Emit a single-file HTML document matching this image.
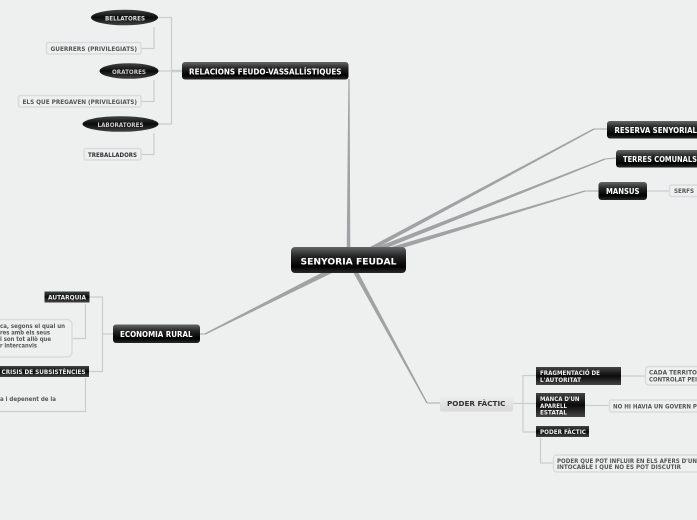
<!DOCTYPE html>
<html><head><meta charset="utf-8"><style>
html,body{margin:0;padding:0;background:#eef0f0;width:697px;height:520px;overflow:hidden}
svg{display:block;filter:blur(.3px)}
text{font-family:"DejaVu Sans","Liberation Sans",sans-serif;font-weight:bold}
.w{fill:#fff}.g{fill:#555}.d{fill:#333}
.l{fill:none;stroke:#c9cdcd;stroke-width:1.2}
.b{fill:#eef0f0;stroke:#d8dcdc;stroke-width:1.5}
</style></head><body>
<svg width="697" height="520" viewBox="0 0 697 520" xmlns="http://www.w3.org/2000/svg">
<defs>
<linearGradient id="k" x1="0" y1="0" x2="0" y2="1"><stop offset="0" stop-color="#666"/><stop offset=".35" stop-color="#262626"/><stop offset=".75" stop-color="#000"/><stop offset="1" stop-color="#2a2a2a"/></linearGradient>
<linearGradient id="f" x1="0" y1="0" x2="0" y2="1"><stop offset="0" stop-color="#444"/><stop offset=".5" stop-color="#0a0a0a"/><stop offset="1" stop-color="#444"/></linearGradient>
<linearGradient id="p" x1="0" y1="0" x2="0" y2="1"><stop offset="0" stop-color="#eeeeee"/><stop offset="1" stop-color="#d8d8d8"/></linearGradient>
</defs>
<rect width="697" height="520" fill="#eef0f0"/>

<!-- main connectors: tapered branches -->
<g fill="#a0a3a3" stroke="none">
<polygon points="346.700,250 350.300,250 349.600,79 348.400,79"/>
<polygon points="369,247.500 372,250.500 594.400,129.600 593.600,128.400"/>
<polygon points="377,247 379,251 605.300,159.600 604.700,158.400"/>
<polygon points="391,247 393,251 585.200,191.600 584.800,190.400"/>
<polygon points="352.500,271 357.500,271 427.600,402.700 426.400,403.300"/>
<polygon points="327,270 332,273 205.300,334.600 204.700,333.400"/>
</g>
<g fill="none" stroke="#a5a8a8" stroke-width="1.1">
<path d="M594 129 L607 129 M605 159 L616 158 M585 191 L599 191 M427 403 L440 403 M205 334 L200 334"/>
</g>

<!-- relacions connectors -->
<path class="l" d="M158 17.500 H171.500 V124 H158 M158 71 H182"/>
<path d="M171 71 H182" stroke="#c9cdcd" stroke-width="2.500"/>
<path class="l" d="M154 27 V48.500 H141 M154 80 V101.500 H141 M154 133 V154.500 H141"/>

<!-- economia connectors -->
<path class="l" d="M89 297 H102.500 V371.500 H89 M102.500 334 H113"/>
<path class="l" d="M85.500 304 V338.500 H72 M85.500 378 V411.500 H0"/>

<!-- poder connectors -->
<path class="l" d="M536 375.500 H523 V432 H536 M513 403.500 H536"/>
<path class="l" d="M621 376 H645 M585 405.500 H609 M540.500 438 V463 H553 M647 191 H669"/>

<!-- root -->
<rect x="291" y="247" width="115" height="26" rx="4" fill="url(#k)"/>
<text x="300.500" y="264.500" font-size="9" textLength="96" lengthAdjust="spacingAndGlyphs" class="w">SENYORIA FEUDAL</text>

<!-- relacions -->
<rect x="182" y="62" width="166.500" height="17.500" rx="3" fill="url(#k)"/>
<text x="189" y="74.500" font-size="7.500" textLength="152.500" lengthAdjust="spacingAndGlyphs" class="w">RELACIONS FEUDO-VASSALLÍSTIQUES</text>

<ellipse cx="124.500" cy="17.500" rx="33.500" ry="7.800" fill="url(#f)"/>
<text x="105" y="20.300" font-size="5.800" textLength="40" lengthAdjust="spacingAndGlyphs" fill="#ddd">BELLATORES</text>
<ellipse cx="129" cy="71" rx="29.500" ry="7.800" fill="url(#f)"/>
<text x="112" y="73.800" font-size="5.800" textLength="34" lengthAdjust="spacingAndGlyphs" fill="#ccc">ORATORES</text>
<ellipse cx="120.500" cy="124" rx="38" ry="7.800" fill="url(#f)"/>
<text x="97.500" y="126.800" font-size="5.800" textLength="46" lengthAdjust="spacingAndGlyphs" fill="#ccc">LABORATORES</text>

<rect class="b" x="46.500" y="42.500" width="94.500" height="11.500" rx="2"/>
<text x="50.500" y="50.800" font-size="5.800" textLength="86.500" lengthAdjust="spacingAndGlyphs" class="g">GUERRERS (PRIVILEGIATS)</text>
<rect class="b" x="18.500" y="95.500" width="122.500" height="11.500" rx="2"/>
<text x="22.500" y="103.800" font-size="5.800" textLength="114.500" lengthAdjust="spacingAndGlyphs" class="g">ELS QUE PREGAVEN (PRIVILEGIATS)</text>
<rect class="b" x="84" y="148.500" width="57" height="11.500" rx="2"/>
<text x="88" y="156.800" font-size="5.800" textLength="49" lengthAdjust="spacingAndGlyphs" class="d">TREBALLADORS</text>

<!-- right -->
<rect x="607" y="121" width="100" height="17.500" rx="3" fill="url(#k)"/>
<text x="614.500" y="132.800" font-size="7.500" textLength="82.500" lengthAdjust="spacingAndGlyphs" class="w">RESERVA SENYORIAL</text>
<rect x="616" y="150" width="100" height="17.500" rx="3" fill="url(#k)"/>
<text x="623" y="161.800" font-size="7.500" textLength="74" lengthAdjust="spacingAndGlyphs" class="w">TERRES COMUNALS</text>
<rect x="598.500" y="182" width="48.500" height="18" rx="3" fill="url(#k)"/>
<text x="606" y="194" font-size="7.500" textLength="33.500" lengthAdjust="spacingAndGlyphs" class="w">MANSUS</text>
<rect class="b" x="669.500" y="185" width="40" height="11.500" rx="2"/>
<text x="674" y="193.200" font-size="5.800" textLength="20" lengthAdjust="spacingAndGlyphs" class="g">SERFS</text>

<!-- economia -->
<rect x="113" y="324.500" width="87" height="18.500" rx="3" fill="url(#k)"/>
<text x="120" y="336.800" font-size="7.500" textLength="72.500" lengthAdjust="spacingAndGlyphs" class="w">ECONOMIA RURAL</text>
<rect x="44.500" y="291.500" width="45" height="11" fill="url(#f)"/>
<text x="48" y="299.500" font-size="5.800" textLength="38" lengthAdjust="spacingAndGlyphs" fill="#eee">AUTARQUIA</text>
<rect class="b" x="-12" y="319.500" width="84" height="37.500" rx="5"/>
<g font-size="5.800" class="g">
<text x="0" y="327.800" textLength="65" lengthAdjust="spacingAndGlyphs">ca, segons el qual un</text>
<text x="0" y="334.500" textLength="50" lengthAdjust="spacingAndGlyphs">res amb els seus</text>
<text x="0" y="340.800" textLength="51" lengthAdjust="spacingAndGlyphs">i son tot allò que</text>
<text x="0" y="347.500" textLength="37" lengthAdjust="spacingAndGlyphs">r intercanvis</text>
</g>
<rect x="-4" y="366" width="93" height="11" fill="url(#f)"/>
<text x="1.500" y="374" font-size="5.800" textLength="84" lengthAdjust="spacingAndGlyphs" fill="#eee">CRISIS DE SUBSISTÈNCIES</text>
<text x="0" y="401" font-size="5.800" textLength="56" lengthAdjust="spacingAndGlyphs" class="g">a i depenent de la</text>

<!-- poder -->
<rect x="440" y="395.500" width="73" height="16" rx="2" fill="url(#p)"/>
<text x="447" y="406" font-size="6.800" textLength="58.500" lengthAdjust="spacingAndGlyphs" fill="#333">PODER FÀCTIC</text>
<rect x="536" y="367" width="85" height="18" fill="url(#f)"/>
<text x="540" y="375" font-size="5.800" textLength="60" lengthAdjust="spacingAndGlyphs" fill="#eee">FRAGMENTACIÓ DE</text>
<text x="540" y="381.800" font-size="5.800" textLength="41" lengthAdjust="spacingAndGlyphs" fill="#eee">L'AUTORITAT</text>
<rect x="536" y="393" width="49" height="24" fill="url(#f)"/>
<text x="540" y="401" font-size="5.800" textLength="39.500" lengthAdjust="spacingAndGlyphs" fill="#eee">MANCA D'UN</text>
<text x="540" y="408" font-size="5.800" textLength="27" lengthAdjust="spacingAndGlyphs" fill="#eee">APARELL</text>
<text x="540" y="414.500" font-size="5.800" textLength="27" lengthAdjust="spacingAndGlyphs" fill="#eee">ESTATAL</text>
<rect x="536" y="426" width="53" height="11" fill="url(#f)"/>
<text x="540" y="434" font-size="5.800" textLength="46" lengthAdjust="spacingAndGlyphs" fill="#eee">PODER FÀCTIC</text>

<rect class="b" x="645.500" y="366.500" width="70" height="18.500" rx="3"/>
<text x="649" y="374.500" font-size="5.800" textLength="48" lengthAdjust="spacingAndGlyphs" class="g">CADA  TERRITO</text>
<text x="649" y="381.500" font-size="5.800" textLength="48" lengthAdjust="spacingAndGlyphs" class="g">CONTROLAT PEI</text>
<rect class="b" x="609.500" y="400" width="110" height="12" rx="2"/>
<text x="613" y="408.300" font-size="5.800" textLength="84" lengthAdjust="spacingAndGlyphs" class="g">NO HI HAVIA UN GOVERN P</text>
<rect class="b" x="553.500" y="455" width="170" height="17" rx="3"/>
<text x="557" y="462.800" font-size="5.800" textLength="140" lengthAdjust="spacingAndGlyphs" class="g">PODER QUE POT INFLUIR EN ELS AFERS D'UN</text>
<text x="557" y="469" font-size="5.800" textLength="124" lengthAdjust="spacingAndGlyphs" class="g">INTOCABLE I QUE NO ES POT DISCUTIR</text>
</svg>
</body></html>
